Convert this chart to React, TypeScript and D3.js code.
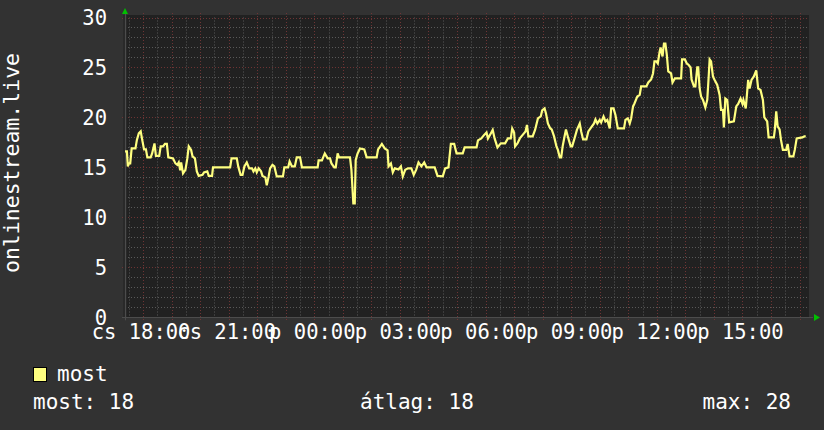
import React from "react";
import * as d3 from "d3";

// minutes after the graph start (cs 17:22) and the value at that moment
const minutes = [
  0, 4, 6, 8, 11, 14, 22, 25, 29, 33, 36, 40, 44, 47, 54, 57, 62, 65, 72, 75,
  80, 84, 88, 91, 101, 106, 110, 113, 116, 118, 122, 127, 131, 134, 139, 142, 147, 151, 155, 163,
  166, 173, 176, 183, 185, 221, 224, 235, 238, 243, 247, 251, 256, 261, 267, 270, 274, 277, 281, 286,
  289, 295, 298, 302, 305, 310, 314, 319, 332, 335, 343, 346, 351, 357, 361, 368,
  372, 405, 407, 414, 420, 426, 431, 434, 440, 443, 447, 450, 473, 476, 480, 483, 485, 489, 494, 503,
  508, 529, 532, 540, 546, 552, 554, 559, 563, 567, 575, 580, 584, 589, 595, 602, 607, 612, 617, 623,
  629, 634, 651, 657, 668, 673, 680, 685, 692, 697, 710,
  714, 739, 742, 749, 755, 760, 763, 769, 773, 777, 783, 790, 799, 805, 811, 814, 818, 820, 825, 830,
  836, 842, 845, 848, 857, 862, 868, 874, 877, 882, 885, 889, 894, 897, 902, 907, 910, 914, 917, 920,
  924, 927, 932, 937, 940, 945, 950, 956, 959, 963, 970, 974, 980, 986, 989, 993, 998, 1001, 1006, 1010,
  1014, 1019, 1022, 1027, 1031, 1036, 1049, 1052, 1057, 1061, 1064, 1068,
  1071, 1077, 1082, 1085, 1096, 1100, 1106, 1110, 1113, 1117, 1120, 1124, 1126, 1130, 1133, 1136, 1139, 1142, 1148, 1151,
  1156, 1169, 1171, 1177, 1181, 1185, 1189, 1191, 1196, 1199, 1203, 1205, 1208, 1211, 1215, 1220, 1224, 1227, 1229, 1232,
  1236, 1239, 1245, 1250, 1253, 1257, 1259, 1262, 1266, 1270, 1280, 1285, 1289, 1294, 1298, 1300, 1305, 1310, 1313, 1317,
  1322, 1327, 1331, 1336, 1341, 1344, 1350, 1353, 1364, 1366, 1369, 1372, 1376, 1379, 1383, 1390, 1393, 1397, 1405, 1408,
  1412, 1424, 1428, 1431,
];
const values = [
  16.6, 16.6, 15.1, 15.4, 15.4, 16.9, 16.9, 17.75, 18.4, 18.6, 17.8, 16.8, 16.8, 16.0, 16.0, 16.4, 17.4, 16.15, 16.15, 17.1,
  17.1, 17.35, 17.35, 16.0, 15.9, 15.4, 15.25, 15.5, 14.7, 15.5, 14.4, 14.75, 15.9, 17.1, 16.75, 16.1, 15.9, 14.6, 14.15, 14.25,
  14.5, 14.6, 14.15, 14.15, 15, 15, 15.9, 15.9, 15.1, 14.25, 14.25, 15.1, 15.5, 14.9, 14.9, 14.6, 14.9, 14.5, 14.9, 14.6,
  14.15, 14.0, 13.2, 14.1, 14.9, 15.25, 15.1, 14.1, 14.1, 15, 15, 15.6, 15.1, 15.1, 16.0, 16.0,
  15, 15, 15.7, 15.7, 16.4, 15.9, 15.9, 15.4, 15, 15, 16.4, 16.0, 16.0, 14.75, 11.4, 11.4, 15.75, 16.4, 16.9, 16.8,
  16.0, 16.0, 16.8, 17.35, 16.9, 16.7, 15.1, 15.4, 14.5, 14.9, 14.8, 15.1, 14.1, 14.75, 14.9, 14.9, 14.25, 14.75, 15.5, 15.1,
  15.5, 15, 15, 14.15, 14.1, 14.9, 15, 17.35, 17.35, 16.4, 16.4,
  17.0, 17, 17.7, 17.9, 18.25, 18.5, 17.9, 18.4, 18.75, 17.9, 17, 17.4, 17.4, 17.9, 17.9, 18.9, 18.5, 17.1, 17.4, 17.9,
  18.25, 18.6, 19.25, 18.1, 18.1, 18.75, 19.9, 20.1, 20.7, 20.9, 20.4, 19.4, 18.9, 18.8, 18.1, 17.1, 16.75, 16.0, 16.0, 17.1,
  18.1, 18.8, 17.9, 17.1, 17.1, 17.9, 18.75, 19.4, 18.6, 17.8, 17.8, 18.6, 19.0, 19.4, 19.8, 19.4, 19.75, 19.5, 20.1, 19.6,
  19.75, 18.9, 20.9, 20.9, 20.25, 18.9, 18.9, 19.75, 19.9, 19.4, 19.9, 21.1,
  21.4, 22.1, 22.25, 23.1, 23.1, 23.5, 23.8, 24.4, 25.6, 25.6, 25.4, 26.6, 27.0, 26.1, 27.4, 27.4, 26.25, 24.6, 24.4, 23.5,
  23.9, 23.9, 25.8, 25.8, 25.4, 25.25, 25, 23.8, 23.1, 23.1, 25, 25, 22.9, 22.1, 21.75, 21.0, 21.75, 24.1, 25.8, 25.6,
  24.1, 23.8, 23.25, 22.25, 20.75, 20.75, 19.0, 21.9, 21.75, 19.5, 19.6, 21.1, 21.35, 21.9, 21.35, 21.75, 20.9, 23.75, 22.9, 23.75,
  24.1, 24.7, 22.9, 22.75, 21.75, 20.0, 19.6, 18.0, 18.0, 18.75, 20.6, 19.1, 18.8, 17.75, 16.75, 16.75, 17.35, 16.1, 16.1, 16.75,
  17.9, 18.0, 18.1, 18.1,
];

const yTicks = [0, 5, 10, 15, 20, 25, 30];
const dayNames = ["v", "h", "k", "sze", "cs", "p", "szo"];
const seriesName = "most";
const axisTitle = "onlinestream.live";
const summary = [
  { label: "most", value: 18 },
  { label: "átlag", value: 18 },
  { label: "max", value: 28 },
];

const start = new Date(2021, 0, 7, 17, 22); // a Thursday
const end = new Date(start.getTime() + 1440 * 60000);

const W = 824;
const H = 430;
const plot = { left: 125, right: 809, top: 17.5, bottom: 317.3 };
const font = "'DejaVu Sans Mono', monospace";

export default function App() {
  const x = d3.scaleTime().domain([start, end]).range([plot.left, plot.right + 1]);
  const y = d3.scaleLinear().domain([0, 30]).range([plot.bottom, plot.top]);

  const points = minutes.map((m, i) => ({ t: new Date(start.getTime() + m * 60000), v: values[i] }));
  const line = d3
    .line<{ t: Date; v: number }>()
    .x((d) => x(d.t))
    .y((d) => y(d.v));

  const minorX = d3.timeMinute.every(30)!.range(start, end).filter((d) => d.getMinutes() !== 0);
  const majorX = d3.timeHour.every(1)!.range(start, end);
  const labelX = d3.timeHour.every(3)!.range(start, end);
  const minorY = d3.range(1, 30).filter((v) => v % 5 !== 0);

  const fmt = (d: Date) => `${dayNames[d.getDay()]} ${d3.timeFormat("%H:%M")(d)}`;
  const px = (v: number) => Math.round(v) + 0.5;

  return (
    <svg width={W} height={H} style={{ position: "absolute", left: 0, top: 0 }} fontFamily={font}>
      <rect width={W} height={H} fill="#323232" />
      <rect x={plot.left} y={15} width={plot.right - plot.left} height={plot.bottom - 15} fill="#212121" />
      <rect x={plot.left - 2} y={15} width={4} height={plot.bottom - 15} fill="#292929" />

      {/* minor grid */}
      <g stroke="#595959" strokeWidth={1} strokeDasharray="1,2">
        {minorY.map((v) => (
          <line key={"my" + v} x1={plot.left} x2={plot.right} y1={px(y(v))} y2={px(y(v))} />
        ))}
        {minorX.map((d, i) => (
          <line key={"mx" + i} x1={px(x(d))} x2={px(x(d))} y1={plot.top} y2={plot.bottom} />
        ))}
      </g>
      {/* major grid */}
      <g stroke="#6e3434" strokeWidth={1} strokeDasharray="1,2">
        {yTicks.slice(1).map((v) => (
          <line key={"My" + v} x1={plot.left - 3} x2={plot.right} y1={px(y(v))} y2={px(y(v))} />
        ))}
        {majorX.map((d, i) => (
          <line key={"Mx" + i} x1={px(x(d))} x2={px(x(d))} y1={13} y2={plot.bottom + 3} />
        ))}
      </g>

      {/* axes */}
      <line x1={plot.left - 3} x2={plot.right + 4} y1={px(plot.bottom)} y2={px(plot.bottom)} stroke="#4c4c4c" />
      <line x1={plot.left + 0.5} x2={plot.left + 0.5} y1={12} y2={plot.bottom + 3} stroke="#4c4c4c" />
      <path d={`M${plot.left - 3},14 L${plot.left + 3},14 L${plot.left},8 Z`} fill="#00c000" />
      <path
        d={`M${plot.right + 5},${Math.round(plot.bottom) - 3} L${plot.right + 5},${Math.round(plot.bottom) + 4} L${plot.right + 11},${px(plot.bottom)} Z`}
        fill="#00c000"
      />

      {/* data */}
      <path d={line(points) ?? ""} fill="none" stroke="#ffff80" strokeWidth={2.2} strokeLinejoin="miter" />

      {/* y labels */}
      <g fill="#ffffff" fontSize={20.5} textAnchor="end">
        {yTicks.map((v) => (
          <text key={v} x={107} y={y(v)} dy="0.36em">
            {v}
          </text>
        ))}
      </g>
      {/* x labels */}
      <g fill="#ffffff" fontSize={20.5} textAnchor="middle">
        {labelX.map((d, i) => (
          <text key={i} x={x(d) - 2} y={339}>
            {fmt(d)}
          </text>
        ))}
      </g>
      <text transform="translate(19,163) rotate(-90)" textAnchor="middle" fill="#ffffff" fontSize={21.5}>
        {axisTitle}
      </text>

      {/* legend */}
      <rect x={33.5} y={367.5} width={13} height={14} fill="#ffff80" stroke="#000000" />
      <text x={57} y={381} fill="#ffffff" fontSize={21}>
        {seriesName}
      </text>
      <g fill="#ffffff" fontSize={21}>
        <text x={33} y={409}>{`${summary[0].label}: ${summary[0].value}`}</text>
        <text x={360} y={409}>{`${summary[1].label}: ${summary[1].value}`}</text>
        <text x={791} y={409} textAnchor="end">{`${summary[2].label}: ${summary[2].value}`}</text>
      </g>
    </svg>
  );
}
